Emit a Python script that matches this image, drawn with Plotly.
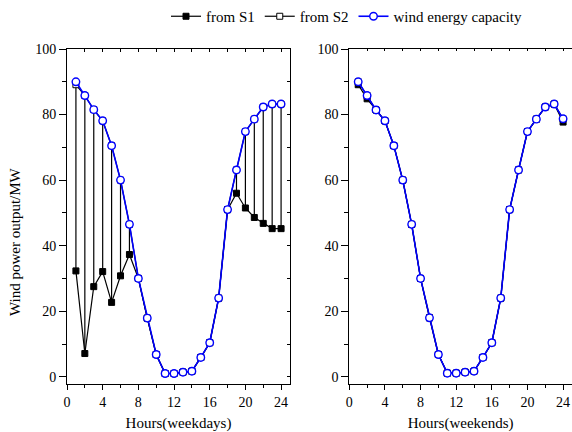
import plotly.graph_objects as go

hours = list(range(1, 25))

cap_wd = [90.0, 85.8, 81.5, 78.1, 70.5, 60.0, 46.5, 30.0, 17.9, 6.8, 1.0, 1.0,
          1.4, 1.7, 5.9, 10.4, 24.0, 51.0, 63.1, 74.8, 78.6, 82.3, 83.2, 83.2]
s1_wd = [32.3, 7.1, 27.5, 32.1, 22.7, 30.8, 37.3, 30.0, 17.9, 6.8, 1.0, 1.0,
         1.4, 1.7, 5.9, 10.4, 24.0, 51.0, 56.0, 51.5, 48.6, 46.8, 45.2, 45.2]
s2_wd = [89.1, 85.8, 81.5, 78.1, 70.5, 60.0, 46.5, 30.0, 17.9, 6.8, 1.0, 1.0,
         1.4, 1.7, 5.9, 10.4, 24.0, 51.0, 63.1, 74.8, 78.6, 82.3, 83.2, 83.2]

cap_we = [90.0, 85.8, 81.4, 78.1, 70.5, 60.0, 46.5, 30.0, 18.0, 6.8, 1.1, 1.1,
          1.4, 1.7, 5.9, 10.4, 24.0, 51.0, 63.1, 74.8, 78.6, 82.3, 83.2, 78.7]
s1_we = [89.1, 84.8, 81.4, 78.1, 70.5, 60.0, 46.5, 30.0, 18.0, 6.8, 1.1, 1.1,
         1.4, 1.7, 5.9, 10.4, 24.0, 51.0, 63.1, 74.8, 78.6, 82.3, 83.2, 77.7]
s2_we = [90.0, 85.8, 81.4, 78.1, 70.5, 60.0, 46.5, 30.0, 18.0, 6.8, 1.1, 1.1,
         1.4, 1.7, 5.9, 10.4, 24.0, 51.0, 63.1, 74.8, 78.6, 82.3, 83.2, 78.7]

x_ticks = [0, 4, 8, 12, 16, 20, 24]
y_ticks = [0, 20, 40, 60, 80, 100]

FONT = "Liberation Serif, Times New Roman, serif"
BLUE = "#0000FF"


def connectors(h, a, b):
    xs, ys = [], []
    for hh, va, vb in zip(h, a, b):
        if abs(va - vb) > 0.05:
            xs += [hh, hh, None]
            ys += [va, vb, None]
    return xs, ys


fig = go.Figure()

for i, (s1, s2, cap) in enumerate([(s1_wd, s2_wd, cap_wd), (s1_we, s2_we, cap_we)]):
    xa = "x" if i == 0 else "x2"
    ya = "y" if i == 0 else "y2"
    show = i == 0
    cx, cy = connectors(hours, s1, s2)
    fig.add_trace(go.Scatter(x=cx, y=cy, mode="lines", line=dict(color="black", width=1.2),
                             showlegend=False, hoverinfo="skip", xaxis=xa, yaxis=ya))
    fig.add_trace(go.Scatter(x=hours, y=s1, mode="lines+markers", name="from S1",
                             line=dict(color="black", width=1.2),
                             marker=dict(symbol="square", size=6, color="black",
                                         line=dict(color="black", width=1)),
                             showlegend=show, legendrank=1, xaxis=xa, yaxis=ya))
    fig.add_trace(go.Scatter(x=hours, y=s2, mode="lines+markers", name="from S2",
                             line=dict(color="black", width=1.2),
                             marker=dict(symbol="square", size=6, color="white",
                                         line=dict(color="black", width=1)),
                             showlegend=show, legendrank=2, xaxis=xa, yaxis=ya))
    fig.add_trace(go.Scatter(x=hours, y=cap, mode="lines+markers", name="wind energy capacity",
                             line=dict(color=BLUE, width=1.6),
                             marker=dict(symbol="circle", size=7.5, color="white",
                                         line=dict(color=BLUE, width=1.4)),
                             showlegend=show, legendrank=3, xaxis=xa, yaxis=ya))

# empty traces so overlay (mirror) axes get drawn
fig.add_trace(go.Scatter(x=[], y=[], xaxis="x3", yaxis="y3", showlegend=False, hoverinfo="skip"))
fig.add_trace(go.Scatter(x=[], y=[], xaxis="x4", yaxis="y4", showlegend=False, hoverinfo="skip"))

XR = [0, 25]
YR = [-2.2, 100]
tickfont = dict(family=FONT, size=14, color="black")

common_x = dict(range=XR, showgrid=False, zeroline=False, showline=True, linecolor="black",
                linewidth=1, ticks="outside", ticklen=5, tickcolor="black", automargin=False,
                tickvals=x_ticks, ticktext=[str(v) for v in x_ticks], tickfont=tickfont,
                minor=dict(dtick=2, tick0=0, ticklen=3, ticks="outside", tickcolor="black"))
common_y = dict(range=YR, showgrid=False, zeroline=False, showline=True, linecolor="black",
                linewidth=1, ticks="outside", ticklen=7, tickcolor="black", automargin=False,
                tickvals=y_ticks, ticktext=[str(v) for v in y_ticks], tickfont=tickfont,
                minor=dict(dtick=10, tick0=0, ticklen=4, ticks="outside", tickcolor="black"))

d1 = [0, 223 / 505]
d2 = [(349.3 - 67) / 505, 1]

fig.update_layout(
    width=572, height=432,
    margin=dict(l=67, r=0, t=49, b=48, autoexpand=False),
    plot_bgcolor="white", paper_bgcolor="white",
    font=dict(family=FONT, size=15, color="black"),
    xaxis=dict(domain=d1, anchor="y", **common_x,
               title=dict(text="Hours(weekdays)", font=dict(family=FONT, size=15), standoff=12)),
    yaxis=dict(domain=[0, 1], anchor="x", **common_y),
    xaxis2=dict(domain=d2, anchor="y2", **common_x,
                title=dict(text="Hours(weekends)", font=dict(family=FONT, size=15), standoff=12)),
    yaxis2=dict(domain=[0, 1], anchor="x2", **common_y),
    xaxis3=dict(overlaying="x", side="top", anchor="y", range=XR, showgrid=False, zeroline=False,
                showline=True, linecolor="black", linewidth=1, ticks="inside", ticklen=3,
                tick0=2, dtick=2, tickcolor="black", showticklabels=False, automargin=False),
    yaxis3=dict(overlaying="y", side="right", anchor="x", range=YR, showgrid=False, zeroline=False,
                showline=True, linecolor="black", linewidth=1, ticks="inside", ticklen=3,
                tick0=0, dtick=10, tickcolor="black", showticklabels=False, automargin=False),
    xaxis4=dict(overlaying="x2", side="top", anchor="y2", range=XR, showgrid=False, zeroline=False,
                showline=True, linecolor="black", linewidth=1, ticks="inside", ticklen=2,
                tick0=2, dtick=2, tickcolor="black", showticklabels=False, automargin=False),
    yaxis4=dict(overlaying="y2", side="right", anchor="x2", range=YR, visible=False),
    legend=dict(orientation="h", xref="container", yref="container", x=166 / 572, y=1.0,
                xanchor="left", yanchor="top", font=dict(family=FONT, size=15),
                bgcolor="rgba(0,0,0,0)", itemwidth=30, tracegroupgap=0),
    annotations=[dict(text="Wind power output/MW", x=(15 - 67) / 505, y=(384 - 242) / 335,
                      xref="paper", yref="paper", textangle=-90, showarrow=False,
                      xanchor="center", yanchor="middle",
                      font=dict(family=FONT, size=15, color="black"))],
    showlegend=True,
)

fig.write_html("out.html", config={"displayModeBar": False},
               post_script="document.body.style.margin='0';document.body.style.overflow='hidden';")
